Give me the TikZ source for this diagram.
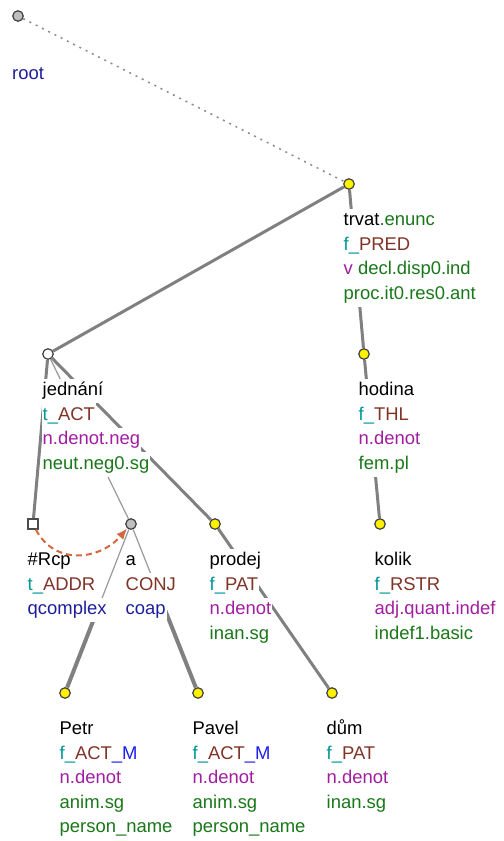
\documentclass[tikz,border=0pt]{standalone}
\usepackage{fontspec}
\setmainfont{Liberation Sans}
\usetikzlibrary{arrows.meta,backgrounds,calc}
\definecolor{grm}{RGB}{25,120,25}
\definecolor{fpre}{RGB}{0,150,150}
\definecolor{fnc}{RGB}{128,52,38}
\definecolor{mem}{RGB}{30,30,235}
\definecolor{sem}{RGB}{160,30,160}
\definecolor{nty}{RGB}{30,30,155}
\definecolor{coref}{RGB}{212,104,64}
\definecolor{edg}{RGB}{128,128,128}

\begin{document}
\begin{tikzpicture}[x=1bp,y=-1bp,
    tnode/.style={circle,draw=black!75,line width=1.2bp,minimum size=10.5bp,inner sep=0pt},
    lex/.style={tnode,fill=yellow},
    aux/.style={tnode,fill=black!25},
    lbl/.style={anchor=base west,fill=white,inner sep=1bp,text height=16bp,text depth=6.5bp,
        font=\fontsize{18.5}{22}\selectfont},
    dep/.style={draw=edg,line width=3bp},
    memb/.style={draw=edg,line width=4bp},
    weak/.style={draw=black!40,line width=1.2bp}]
    \useasboundingbox (0,0) rectangle (504,841);
    \node [aux] (root) at (18,16) {};
    \node [lex] (trvat) at (349,184) {};
    \node [tnode,fill=white] (jednani) at (48,354) {};
    \node [lex] (hodina) at (364,354) {};
    \node [rectangle,draw=black!70,line width=1.2bp,fill=white,minimum size=10bp,inner sep=0pt] (rcp) at (33,524) {};
    \node [aux] (a) at (131,524) {};
    \node [lex] (prodej) at (215,524) {};
    \node [lex] (kolik) at (380,524) {};
    \node [lex] (petr) at (65,693) {};
    \node [lex] (pavel) at (198,693) {};
    \node [lex] (dum) at (332,693) {};
    \node [lbl,text=nty] (root-1) at (11,79.5) {root};
    \node [lbl] (trvat-1) at (342.5,225.5) {trvat\textcolor{grm}{.enunc}};
    \node [lbl] (trvat-2) at (342.5,250) {\textcolor{fpre}{f\_}\textcolor{fnc}{PRED}};
    \node [lbl] (trvat-3) at (342.5,274.5) {\textcolor{sem}{v} \textcolor{grm}{decl.disp0.ind}};
    \node [lbl,text=grm] (trvat-4) at (342.5,299) {proc.it0.res0.ant};
    \node [lbl] (jednani-1) at (41.5,395.5) {jednání};
    \node [lbl] (jednani-2) at (41.5,420) {\textcolor{fpre}{t\_}\textcolor{fnc}{ACT}};
    \node [lbl,text=sem] (jednani-3) at (41.5,444.5) {n.denot.neg};
    \node [lbl,text=grm] (jednani-4) at (41.5,469) {neut.neg0.sg};
    \node [lbl] (hodina-1) at (357.5,395.5) {hodina};
    \node [lbl] (hodina-2) at (357.5,420) {\textcolor{fpre}{f\_}\textcolor{fnc}{THL}};
    \node [lbl,text=sem] (hodina-3) at (357.5,444.5) {n.denot};
    \node [lbl,text=grm] (hodina-4) at (357.5,469) {fem.pl};
    \node [lbl] (rcp-1) at (26.5,565.5) {\#Rcp};
    \node [lbl] (rcp-2) at (26.5,590) {\textcolor{fpre}{t\_}\textcolor{fnc}{ADDR}};
    \node [lbl,text=nty] (rcp-3) at (26.5,614.5) {qcomplex};
    \node [lbl] (a-1) at (124.5,565.5) {a};
    \node [lbl,text=fnc] (a-2) at (124.5,590) {CONJ};
    \node [lbl,text=nty] (a-3) at (124.5,614.5) {coap};
    \node [lbl] (prodej-1) at (208.5,565.5) {prodej};
    \node [lbl] (prodej-2) at (208.5,590) {\textcolor{fpre}{f\_}\textcolor{fnc}{PAT}};
    \node [lbl,text=sem] (prodej-3) at (208.5,614.5) {n.denot};
    \node [lbl,text=grm] (prodej-4) at (208.5,639) {inan.sg};
    \node [lbl] (kolik-1) at (373.5,565.5) {kolik};
    \node [lbl] (kolik-2) at (373.5,590) {\textcolor{fpre}{f\_}\textcolor{fnc}{RSTR}};
    \node [lbl,text=sem] (kolik-3) at (373.5,614.5) {adj.quant.indef};
    \node [lbl,text=grm] (kolik-4) at (373.5,639) {indef1.basic};
    \node [lbl] (petr-1) at (58.5,734.5) {Petr};
    \node [lbl] (petr-2) at (58.5,759) {\textcolor{fpre}{f\_}\textcolor{fnc}{ACT}\textcolor{mem}{\_M}};
    \node [lbl,text=sem] (petr-3) at (58.5,783.5) {n.denot};
    \node [lbl,text=grm] (petr-4) at (58.5,808) {anim.sg};
    \node [lbl,text=grm] (petr-5) at (58.5,832.5) {person\_name};
    \node [lbl] (pavel-1) at (191.5,734.5) {Pavel};
    \node [lbl] (pavel-2) at (191.5,759) {\textcolor{fpre}{f\_}\textcolor{fnc}{ACT}\textcolor{mem}{\_M}};
    \node [lbl,text=sem] (pavel-3) at (191.5,783.5) {n.denot};
    \node [lbl,text=grm] (pavel-4) at (191.5,808) {anim.sg};
    \node [lbl,text=grm] (pavel-5) at (191.5,832.5) {person\_name};
    \node [lbl] (dum-1) at (325.5,734.5) {dům};
    \node [lbl] (dum-2) at (325.5,759) {\textcolor{fpre}{f\_}\textcolor{fnc}{PAT}};
    \node [lbl,text=sem] (dum-3) at (325.5,783.5) {n.denot};
    \node [lbl,text=grm] (dum-4) at (325.5,808) {inan.sg};
    \begin{pgfonlayer}{background}
    \draw [draw=black!45,line width=1.5bp,dash pattern=on 2bp off 5bp] (root) -- (trvat);
    \draw [dep] (trvat) -- (jednani);
    \draw [dep] (trvat) -- (hodina);
    \draw [dep] (jednani) -- (rcp);
    \draw [weak] (jednani) -- (a);
    \draw [dep] (jednani) -- (prodej);
    \draw [dep] (hodina) -- (kolik);
    \draw [dep] (prodej) -- (dum);
    \draw [weak] (a) -- ($(a)!0.5!(petr)$);
    \draw [memb] ($(a)!0.5!(petr)$) -- (petr);
    \draw [weak] (a) -- ($(a)!0.5!(pavel)$);
    \draw [memb] ($(a)!0.5!(pavel)$) -- (pavel);
    \end{pgfonlayer}
    \draw [coref,line width=2bp,dash pattern=on 6bp off 4bp,-{Latex[length=11bp,width=9bp]}]
        (rcp) .. controls (55,566) and (100,560) .. (a);
\end{tikzpicture}
\end{document}
